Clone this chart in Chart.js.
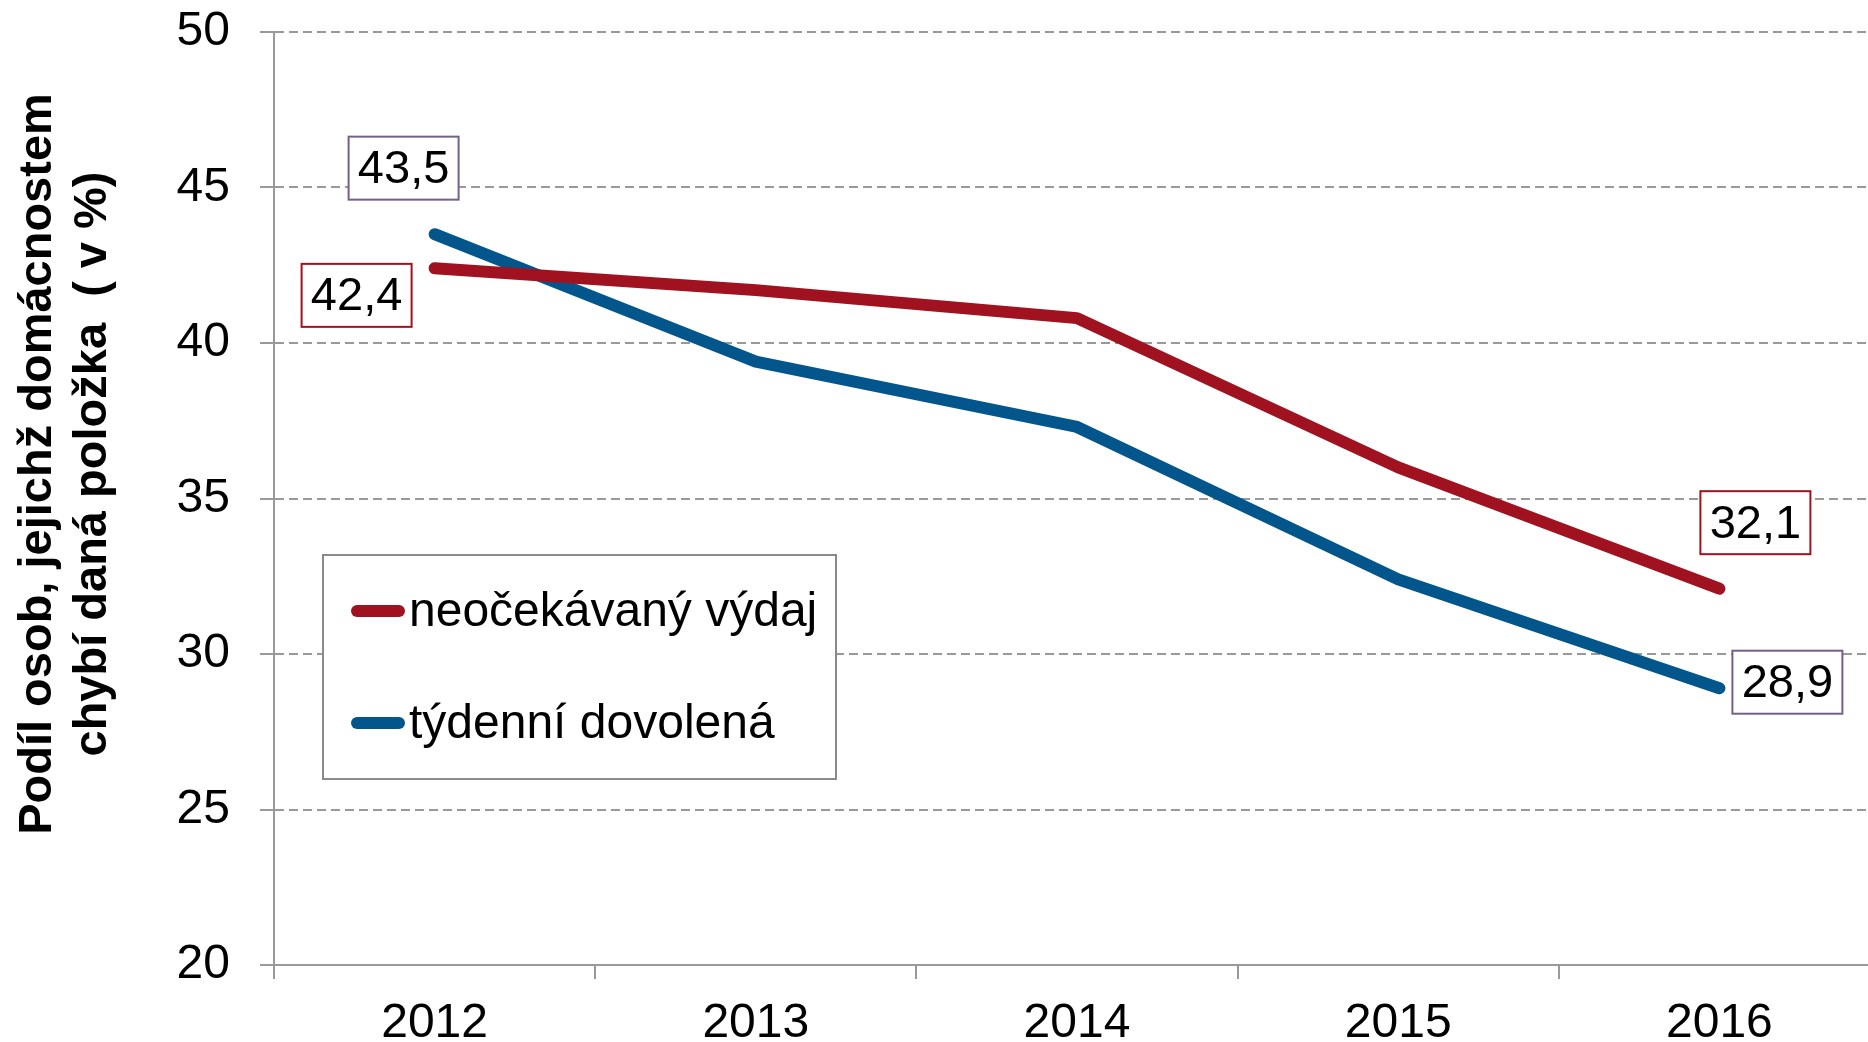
<!DOCTYPE html>
<html>
<head>
<meta charset="utf-8">
<script src="https://cdn.jsdelivr.net/npm/chart.js@4.4.0/dist/chart.umd.min.js"></script>
<style>
html, body { margin: 0; padding: 0; background: #fff; overflow: hidden; }
#wrap { position: relative; width: 1880px; height: 1042px; }
</style>
</head>
<body>
<div id="wrap"><canvas id="chart"></canvas></div>
<script>
// Data
const years = ['2012', '2013', '2014', '2015', '2016'];
const vydaj = [42.4, 41.7, 40.8, 36.0, 32.1];      // neočekávaný výdaj
const dovolena = [43.5, 39.4, 37.3, 32.4, 28.9];   // týdenní dovolená
const seriesNames = ['neočekávaný výdaj', 'týdenní dovolená'];
const yMin = 20, yMax = 50, yStep = 5;
const axisTitle = ['Podíl osob, jejichž domácnostem', 'chybí daná položka  ( v %)'];
const labelledPoints = [0, 4];

const FONT = '"Liberation Sans", Arial, sans-serif';
const RED = '#A0121F';
const BLUE = '#02568C';
const GRID = '#999999';

// where each value box sits relative to its point
const labelOffsets = [
    { 0: [-78, 27], 4: [36, -66] },
    { 0: [-31, -66], 4: [68, -6] }
];
const labelBorders = [RED, '#76608A'];

const fmt = v => v.toFixed(1).replace('.', ',');

const overlay = {
    id: 'overlay',
    afterDatasetsDraw(chart) {
        const ctx = chart.ctx;
        const area = chart.chartArea;

        // value boxes
        chart.data.datasets.forEach((ds, di) => {
            const meta = chart.getDatasetMeta(di);
            labelledPoints.forEach(i => {
                const pt = meta.data[i];
                const [dx, dy] = labelOffsets[di][i];
                const cx = pt.x + dx, cy = pt.y + dy;
                const w = 110, h = 63;
                ctx.save();
                ctx.fillStyle = '#fff';
                ctx.fillRect(cx - w / 2, cy - h / 2, w, h);
                ctx.strokeStyle = labelBorders[di];
                ctx.lineWidth = 2;
                ctx.strokeRect(cx - w / 2, cy - h / 2, w, h);
                ctx.fillStyle = '#000';
                ctx.font = '47px ' + FONT;
                ctx.textAlign = 'center';
                ctx.textBaseline = 'middle';
                ctx.fillText(fmt(ds.data[i]), cx, cy + 2);
                ctx.restore();
            });
        });

        // legend box inside the plot
        const lx = area.left + 49, ly = area.top + 523, lw = 513, lh = 224;
        ctx.save();
        ctx.fillStyle = '#fff';
        ctx.fillRect(lx, ly, lw, lh);
        ctx.strokeStyle = '#8a8a8a';
        ctx.lineWidth = 2;
        ctx.strokeRect(lx, ly, lw, lh);
        chart.data.datasets.forEach((ds, di) => {
            const y = ly + 56 + di * 112;
            ctx.strokeStyle = ds.borderColor;
            ctx.lineWidth = 12;
            ctx.lineCap = 'round';
            ctx.beginPath();
            ctx.moveTo(lx + 34, y);
            ctx.lineTo(lx + 76, y);
            ctx.stroke();
            ctx.fillStyle = '#000';
            ctx.font = '48px ' + FONT;
            ctx.textAlign = 'left';
            ctx.textBaseline = 'middle';
            ctx.fillText(ds.label, lx + 86, y + 2);
        });
        ctx.restore();

        // rotated y axis title
        ctx.save();
        ctx.font = 'bold 47px ' + FONT;
        ctx.fillStyle = '#000';
        ctx.textAlign = 'center';
        ctx.textBaseline = 'middle';
        axisTitle.forEach((line, k) => {
            ctx.save();
            ctx.translate(38 + k * 55, 464);
            ctx.rotate(-Math.PI / 2);
            ctx.fillText(line, 0, 0);
            ctx.restore();
        });
        ctx.restore();
    }
};

new Chart(document.getElementById('chart'), {
    type: 'line',
    data: {
        labels: years,
        datasets: [
            {
                label: seriesNames[0],
                data: vydaj,
                borderColor: RED,
                backgroundColor: RED,
                borderWidth: 12,
                borderCapStyle: 'round',
                borderJoinStyle: 'round',
                pointRadius: 0,
                tension: 0
            },
            {
                label: seriesNames[1],
                data: dovolena,
                borderColor: BLUE,
                backgroundColor: BLUE,
                borderWidth: 12,
                borderCapStyle: 'round',
                borderJoinStyle: 'round',
                pointRadius: 0,
                tension: 0
            }
        ]
    },
    options: {
        responsive: true,
        maintainAspectRatio: false,
        animation: false,
        layout: { padding: { top: 32, right: 0, left: 0, bottom: 0 } },
        plugins: {
            legend: { display: false },
            tooltip: { enabled: false }
        },
        scales: {
            x: {
                type: 'category',
                offset: true,
                afterFit: s => { s.height = 77; },
                grid: {
                    offset: true,
                    drawOnChartArea: false,
                    drawTicks: true,
                    tickLength: 14,
                    color: GRID,
                    lineWidth: 2
                },
                border: { color: GRID, width: 2 },
                ticks: {
                    color: '#000',
                    padding: 16,
                    font: { family: FONT, size: 48 }
                }
            },
            y: {
                min: yMin,
                max: yMax,
                afterFit: s => { s.width = 274; s.paddingTop = 0; s.paddingBottom = 0; },
                ticks: {
                    stepSize: yStep,
                    color: '#000',
                    padding: 30,
                    font: { family: FONT, size: 48, lineHeight: 0.5 }
                },
                grid: {
                    color: GRID,
                    lineWidth: 2,
                    tickLength: 14,
                    tickBorderDash: []
                },
                border: { color: GRID, width: 2, dash: [9, 5] }
            }
        }
    },
    plugins: [overlay]
});
</script>
</body>
</html>
